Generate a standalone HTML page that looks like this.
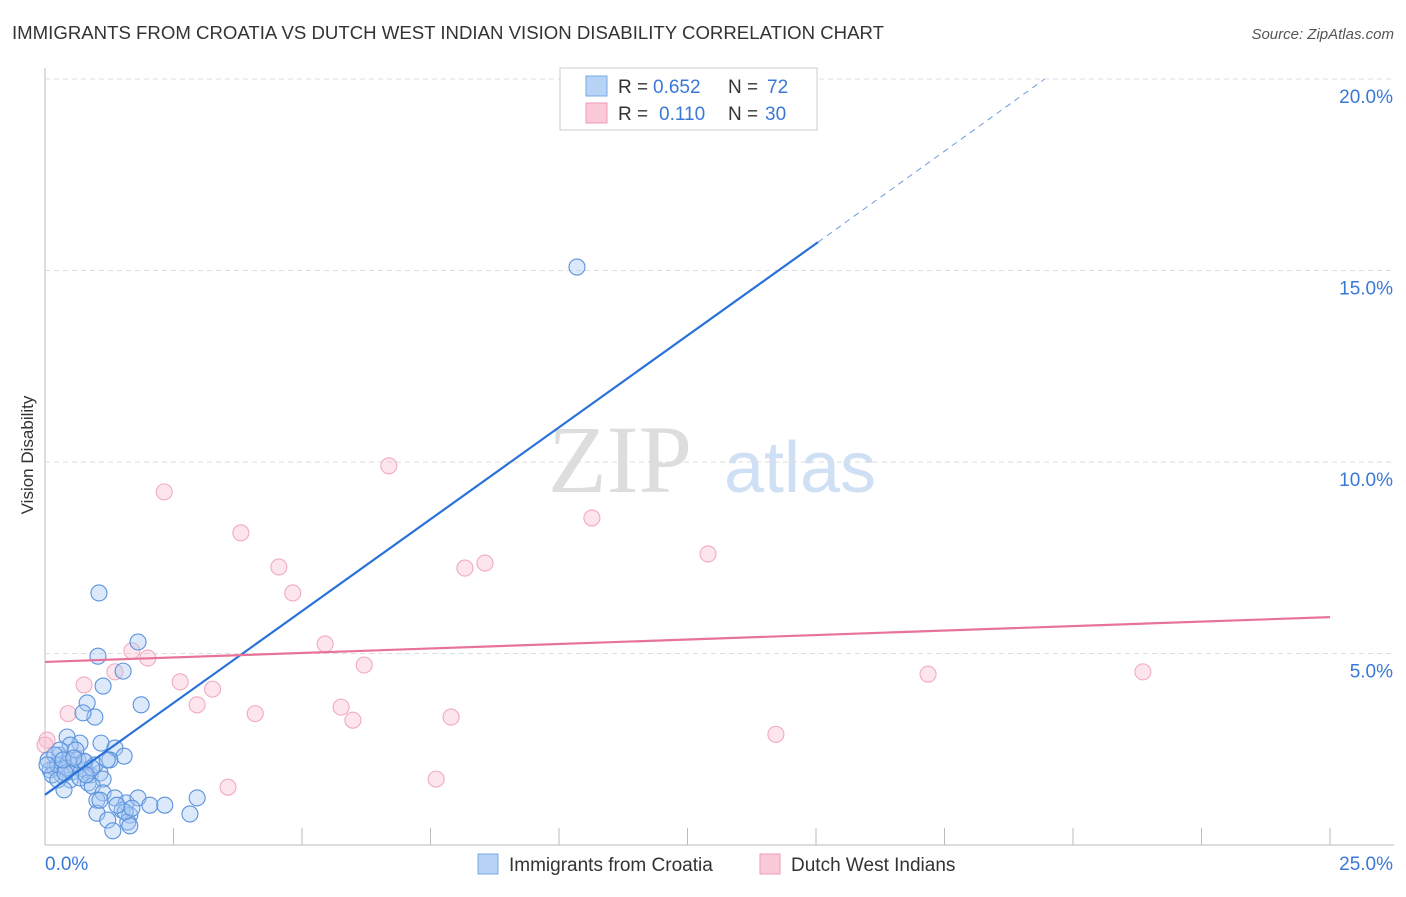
<!DOCTYPE html>
<html><head><meta charset="utf-8"><style>
body{margin:0;background:#fff;font-family:"Liberation Sans",sans-serif}
</style></head><body>
<svg id="c" width="1406" height="892" xmlns="http://www.w3.org/2000/svg">
<text x="12" y="39" font-size="18" fill="#333" textLength="872" lengthAdjust="spacingAndGlyphs">IMMIGRANTS FROM CROATIA VS DUTCH WEST INDIAN VISION DISABILITY CORRELATION CHART</text>
<text x="1394" y="39" font-size="15" fill="#555" font-style="italic" text-anchor="end">Source: ZipAtlas.com</text>
<text x="33" y="455" font-size="17" fill="#333" transform="rotate(-90 33 455)" text-anchor="middle">Vision Disability</text>
<text x="620" y="492" font-size="96" fill="#ddd" font-family="Liberation Serif,serif" text-anchor="middle">ZIP</text>
<text x="800" y="492" font-size="72" fill="#cfe0f5" text-anchor="middle">atlas</text>
<g id="grid"></g><g id="pts"></g><g id="lines"></g>
<g>
<rect x="560" y="68" width="257" height="62" fill="#fff" stroke="#ccc"/>
<rect x="586" y="76" width="21" height="20" fill="#b7d3f5" stroke="#7aa9e6"/>
<text x="618" y="93" font-size="19" fill="#333">R =</text>
<text x="653" y="93" font-size="19" fill="#3a78d8">0.652</text>
<text x="728" y="93" font-size="19" fill="#333">N =</text>
<text x="767" y="93" font-size="19" fill="#3a78d8">72</text>
<rect x="586" y="103" width="21" height="20" fill="#fbcad9" stroke="#f09ab5"/>
<text x="618" y="120" font-size="19" fill="#333">R =</text>
<text x="659" y="120" font-size="19" fill="#3a78d8">0.110</text>
<text x="728" y="120" font-size="19" fill="#333">N =</text>
<text x="765" y="120" font-size="19" fill="#3a78d8">30</text>
</g>
<g>
<rect x="478" y="854" width="20" height="20" fill="#b7d3f5" stroke="#7aa9e6"/>
<text x="509" y="871" font-size="19" fill="#333">Immigrants from Croatia</text>
<rect x="760" y="854" width="20" height="20" fill="#fbcad9" stroke="#f09ab5"/>
<text x="791" y="871" font-size="19" fill="#333">Dutch West Indians</text>
</g>
</svg>
<script>
const yTicks=[5,10,15,20];
const yTickLabels=["5.0%","10.0%","15.0%","20.0%"];
const xTickLabels=["0.0%","25.0%"];
const blueX=[10.35,1.05,1.81,1.03,1.52,1.13,0.82,1.87,0.97,0.74,0.43,0.68,1.09,1.36,1.54,1.26,0.29,0.45,0.58,0.78,0.19,0.10,0.33,0.53,0.88,1.07,0.49,0.68,1.13,0.84,0.92,0.06,0.14,0.25,0.41,0.64,0.78,0.97,0.25,0.39,1.13,1.01,1.36,1.58,1.81,2.04,2.33,2.96,1.01,1.22,1.50,1.65,1.61,1.56,1.32,1.65,2.82,0.76,0.49,0.29,0.60,0.19,0.91,0.04,0.35,0.56,0.80,1.21,0.37,1.07,1.40,1.69];
const blueY=[15.09,6.58,5.30,4.93,4.54,4.15,3.71,3.66,3.34,3.45,2.82,2.66,2.66,2.53,2.32,2.22,2.35,2.22,2.09,1.96,2.01,1.96,1.83,1.91,1.83,1.88,1.70,1.75,1.72,1.62,1.54,2.22,1.83,2.09,2.01,2.22,2.17,2.09,1.70,1.88,1.36,1.17,1.23,1.10,1.23,1.04,1.04,1.23,0.83,0.65,0.91,0.78,0.60,0.86,0.37,0.50,0.81,2.19,2.61,2.48,2.48,2.35,2.01,2.09,2.22,2.27,1.83,2.22,1.44,1.17,1.04,0.96];
const pinkX=[2.32,6.69,3.81,10.64,4.55,8.17,8.56,12.90,4.82,5.45,1.69,2.00,6.21,2.63,3.26,0.76,1.36,2.96,0.45,4.09,5.76,5.99,7.90,17.18,21.36,14.22,7.61,3.56,0.04,0.00];
const pinkY=[9.22,9.90,8.15,8.54,7.26,7.23,7.36,7.60,6.58,5.25,5.07,4.88,4.70,4.26,4.07,4.18,4.52,3.66,3.43,3.43,3.60,3.26,3.34,4.46,4.52,2.89,1.72,1.51,2.74,2.61];
const blueLineX=[0,15.04,19.45];
const blueLineY=[1.31,15.74,20];
const pinkLineX=[0,25];
const pinkLineY=[4.78,5.95];
const NS="http://www.w3.org/2000/svg";
const X=v=>45+v/25*1285, Y=v=>845-v*38.3;
function mk(p,t,a){const e=document.createElementNS(NS,t);for(const k in a)e.setAttribute(k,a[k]);p.appendChild(e);return e;}
const g=document.getElementById('grid');
let ax=mk(g,'line',{x1:45,y1:68,x2:45,y2:845,stroke:'#bbb'});


let bx=mk(g,'line',{x1:45,y1:845,x2:1394,y2:845,stroke:'#bbb'});


for(let i=1;i<=10;i++){let t=mk(g,'line',{x1:X(i*2.5),y1:828,x2:X(i*2.5),y2:845,stroke:'#bbb'});

}
yTicks.forEach((v,i)=>{let l=mk(g,'line',{x1:45,y1:Y(v),x2:1394,y2:Y(v),stroke:'#ddd','stroke-dasharray':'5,4'});


let t=mk(g,'text',{x:1393,y:Y(v)+24,'font-size':19,fill:'#3a78d8','text-anchor':'end'});t.textContent=yTickLabels[i];

});
let t0=mk(g,'text',{x:45,y:870,'font-size':19,fill:'#3a78d8'});t0.textContent=xTickLabels[0];


let t1=mk(g,'text',{x:1393,y:870,'font-size':19,fill:'#3a78d8','text-anchor':'end'});t1.textContent=xTickLabels[1];


const P=document.getElementById('pts');
pinkX.forEach((x,i)=>{let c=mk(P,'circle',{cx:X(x),cy:Y(pinkY[i]),r:8,fill:'rgba(248,190,208,0.4)',stroke:'#f2aac0','stroke-width':1.1});

});
blueX.forEach((x,i)=>{let c=mk(P,'circle',{cx:X(x),cy:Y(blueY[i]),r:8,fill:'rgba(168,200,242,0.4)',stroke:'#5a92dc','stroke-width':1.1});

});
const L=document.getElementById('lines');
let b1=mk(L,'line',{x1:X(blueLineX[0]),y1:Y(blueLineY[0]),x2:X(blueLineX[1]),y2:Y(blueLineY[1]),stroke:'#2a72d9','stroke-width':2.2});


let b2=mk(L,'line',{x1:X(blueLineX[1]),y1:Y(blueLineY[1]),x2:X(blueLineX[2]),y2:Y(blueLineY[2]),stroke:'#6a9be0','stroke-width':1,'stroke-dasharray':'6,5'});


let p1=mk(L,'line',{x1:X(pinkLineX[0]),y1:Y(pinkLineY[0]),x2:X(pinkLineX[1]),y2:Y(pinkLineY[1]),stroke:'#e8739a','stroke-width':2.2});


</script>
</body></html>
